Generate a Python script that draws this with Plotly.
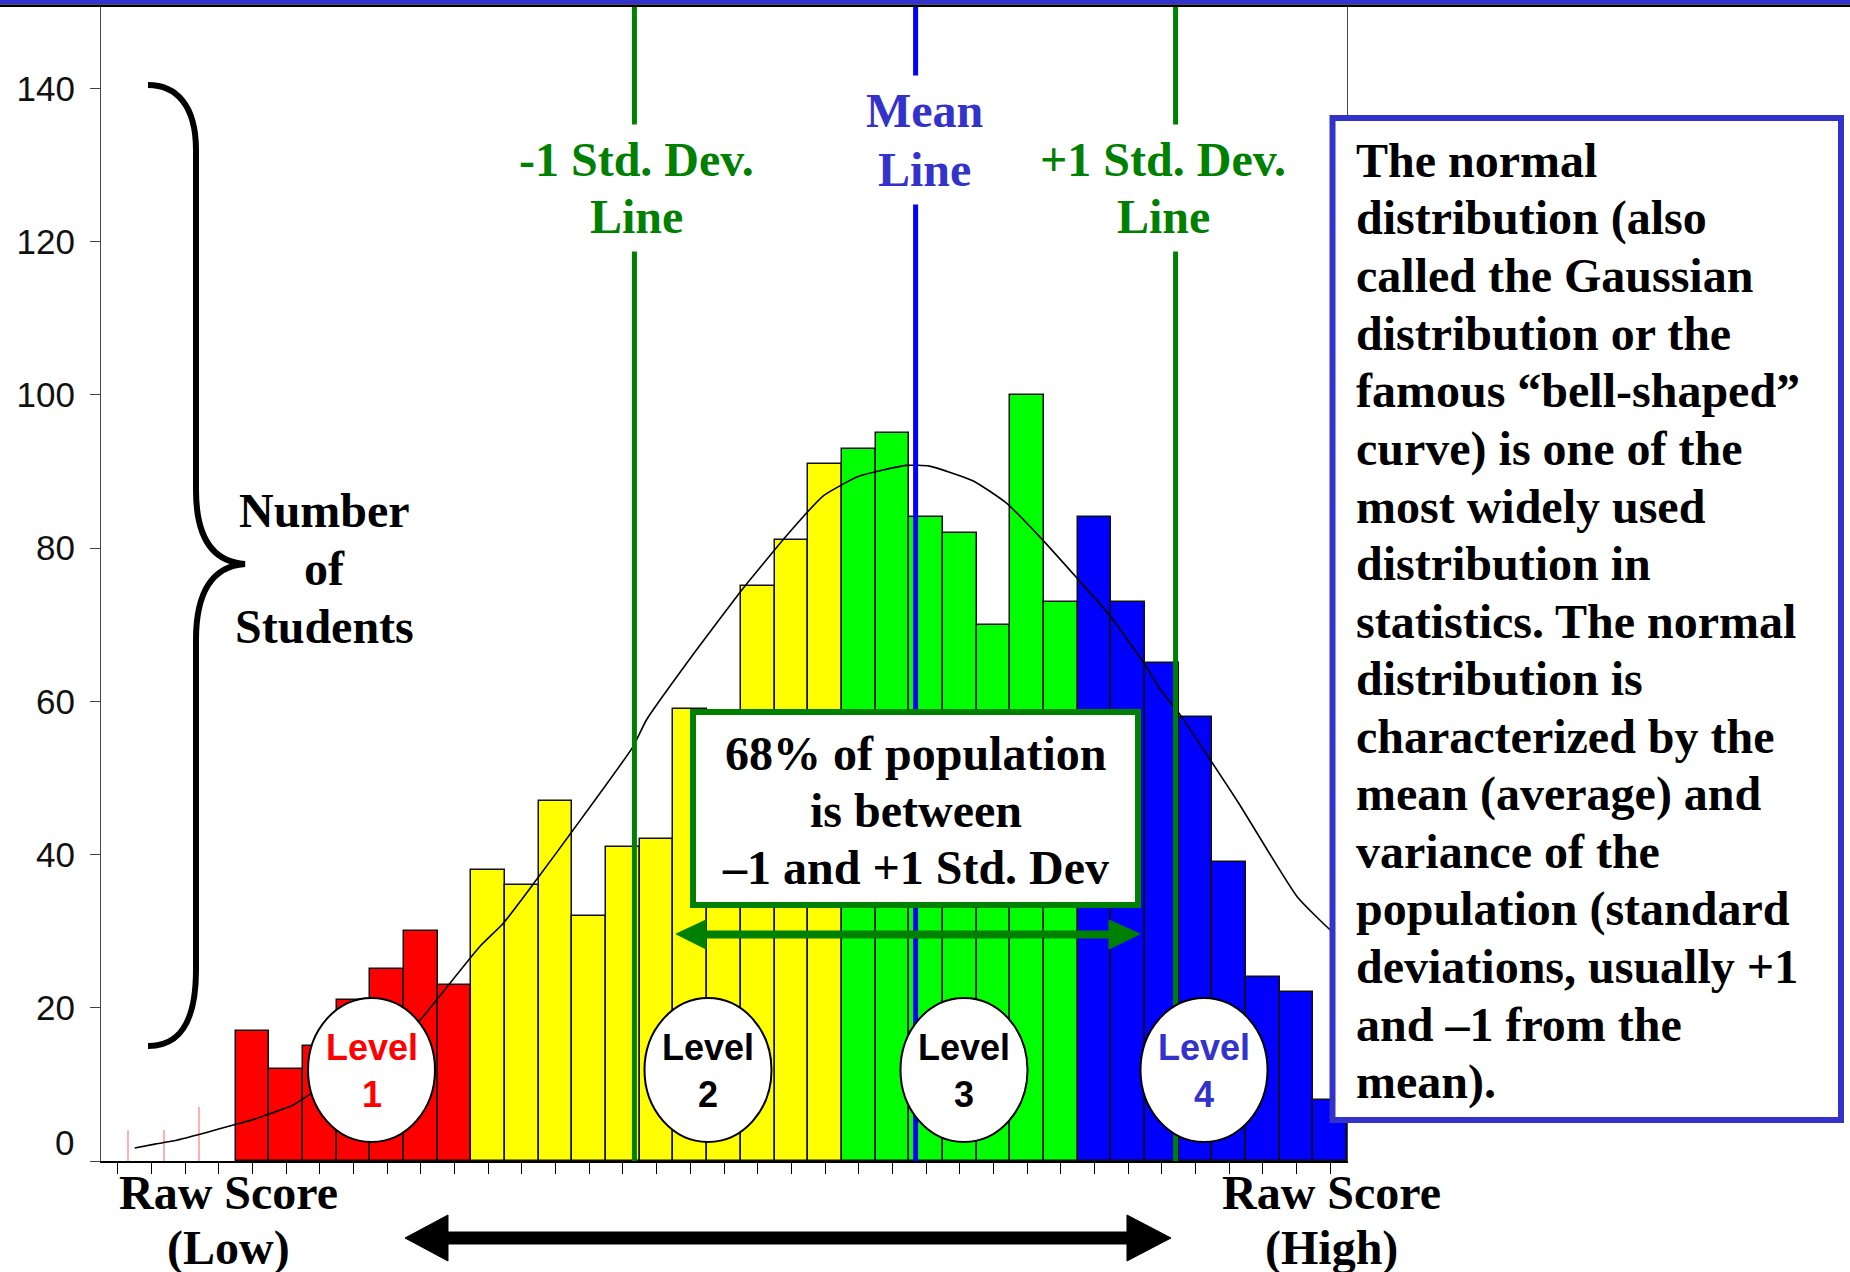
import plotly.graph_objects as go

# ---------------- data ----------------
level1_counts = [17, 12, 15, 21, 25, 30, 23]
level2_counts = [38, 36, 47, 32, 41, 42, 59, 58, 75, 81, 91]
level3_counts = [93, 95, 84, 82, 70, 100, 73]
level4_counts = [84, 73, 65, 58, 39, 24, 22, 8]
stray_bins = [-3.69, -2.62, -1.58]
stray_counts = [4, 4, 7]

curve_x = [-3.5, -2.9, -2.37, -1.56, -1.06, -0.57, 0.02, 0.57, 1.21, 1.70, 3.3, 4.97,
           5.46, 6.75, 7.44, 8.43, 9.52, 11.30, 11.70, 13.18, 14.47, 15.06, 15.95,
           16.94, 18.02, 19.41, 20.10, 21.39, 22.38, 23.37, 24.50, 25.44, 26.53,
           26.93, 27.52, 29.27, 31.02, 32.07, 32.5]
curve_y = [1.7, 2.2, 2.6, 3.5, 4.1, 4.7, 5.4, 6.25, 7.3, 8.7, 13.2, 18.4,
           21.0, 28.0, 31.0, 36.7, 43.2, 54.1, 57.6, 66.7, 74.2, 77.4, 82.1,
           86.8, 89.4, 90.8, 90.7, 88.8, 85.9, 81.5, 76.0, 71.3, 64.6,
           61.7, 58.4, 46.8, 34.5, 29.9, 28.5]

sd_minus_pos = 11.34
mean_pos = 19.69
sd_plus_pos = 27.41

y_tick_vals = [0, 20, 40, 60, 80, 100, 120, 140]
level_labels = ["Level<br>1", "Level<br>2", "Level<br>3", "Level<br>4"]
info_lines = [
    "The normal", "distribution (also", "called the Gaussian",
    "distribution or the", "famous \u201cbell-shaped\u201d", "curve) is one of the",
    "most widely used", "distribution in", "statistics. The normal",
    "distribution is", "characterized by the", "mean (average) and",
    "variance of the", "population (standard", "deviations, usually +1",
    "and \u20131 from the", "mean).",
]
box68_lines = ["68% of population", "is between", "\u20131 and +1 Std. Dev"]

# ---------------- geometry helpers ----------------
W, H = 1850, 1272
PL, PR, PT, PB = 101, 1347, 7, 1161
Y_TOP = (PB - PT) / 7.661


def xp(px):
    return (px - PL) / (PR - PL)


def yp(py):
    return (PB - py) / (PB - PT)


def pt(p):
    return f"{xp(p[0]):.5f},{yp(p[1]):.5f}"


def poly(points):
    s = "M" + pt(points[0])
    for p in points[1:]:
        s += " L" + pt(p)
    return s + " Z"


SERIF = "Liberation Serif"
SANS = "Liberation Sans"

fig = go.Figure()

groups = [
    (level1_counts, "#ff0000"),
    (level2_counts, "#ffff00"),
    (level3_counts, "#00ff00"),
    (level4_counts, "#0000ff"),
]
start = 0
for counts, color in groups:
    xs = list(range(start, start + len(counts)))
    start += len(counts)
    fig.add_trace(go.Bar(x=xs, y=counts, width=1.0,
                         marker=dict(color=color, line=dict(color="#111111", width=1.5)),
                         showlegend=False, hoverinfo="skip"))

fig.add_trace(go.Bar(x=stray_bins, y=stray_counts, width=0.03,
                     marker=dict(color="#ffb0b0", line=dict(width=0)),
                     showlegend=False, hoverinfo="skip"))

fig.add_trace(go.Scatter(x=curve_x, y=curve_y, mode="lines",
                         line=dict(color="black", width=1.6, shape="spline", smoothing=0.5),
                         showlegend=False, hoverinfo="skip"))

shapes = []
# vertical reference lines
for pos, col in [(sd_minus_pos, "#008000"), (mean_pos, "#0000ff"), (sd_plus_pos, "#008000")]:
    shapes.append(dict(type="line", xref="x", yref="y", x0=pos, x1=pos, y0=0, y1=Y_TOP,
                       line=dict(color=col, width=5), layer="above"))

# level circles
for cx in [371.5, 708, 964, 1204]:
    shapes.append(dict(type="circle", xref="paper", yref="paper",
                       x0=xp(cx - 63.5), x1=xp(cx + 63.5), y0=yp(1142), y1=yp(998),
                       fillcolor="white", line=dict(color="black", width=2), layer="above"))

# green double arrow
ga = [(676, 934), (706, 920), (706, 931), (1109, 931), (1109, 920), (1140, 934),
      (1109, 949), (1109, 938), (706, 938), (706, 949)]
shapes.append(dict(type="path", xref="paper", yref="paper", path=poly(ga),
                   fillcolor="#008000", line=dict(color="#008000", width=1), layer="above"))

# 68% box
shapes.append(dict(type="rect", xref="paper", yref="paper",
                   x0=xp(693), x1=xp(1138), y0=yp(905), y1=yp(712),
                   fillcolor="white", line=dict(color="#008000", width=6), layer="above"))

# right info box
shapes.append(dict(type="rect", xref="paper", yref="paper",
                   x0=xp(1332.5), x1=xp(1841), y0=yp(1120), y1=yp(118),
                   fillcolor="white", line=dict(color="#3333cc", width=6), layer="above"))

# brace
brace = ("M" + pt((148, 85)) +
         " C" + pt((176, 85)) + " " + pt((196, 105)) + " " + pt((196, 150)) +
         " L" + pt((196, 490)) +
         " C" + pt((196, 540)) + " " + pt((214, 562)) + " " + pt((245, 564)) +
         " C" + pt((214, 566)) + " " + pt((196, 590)) + " " + pt((196, 640)) +
         " L" + pt((196, 970)) +
         " C" + pt((196, 1025)) + " " + pt((178, 1046)) + " " + pt((148, 1046)))
shapes.append(dict(type="path", xref="paper", yref="paper", path=brace,
                   line=dict(color="black", width=6), layer="above"))

# black double arrow at the bottom
ba = [(405, 1238), (448, 1215), (448, 1232), (1127, 1232), (1127, 1215), (1171, 1238),
      (1127, 1261), (1127, 1244), (448, 1244), (448, 1261)]
shapes.append(dict(type="path", xref="paper", yref="paper", path=poly(ba),
                   fillcolor="black", line=dict(color="black", width=1), layer="above"))

# header band
shapes.append(dict(type="rect", xref="paper", yref="paper", x0=xp(0), x1=xp(W),
                   y0=yp(4.5), y1=yp(-1), fillcolor="#3333cc", line=dict(width=0), layer="above"))
shapes.append(dict(type="rect", xref="paper", yref="paper", x0=xp(0), x1=xp(W),
                   y0=yp(7), y1=yp(4.5), fillcolor="black", line=dict(width=0), layer="above"))

annotations = []


def txt(text, x, y, size=48, color="black", xanchor="center", family=SERIF, bg=None, pad=1):
    d = dict(text=text, x=xp(x), y=yp(y), xref="paper", yref="paper", showarrow=False,
             xanchor=xanchor, yanchor="middle",
             font=dict(family=family, size=size, color=color, weight="bold"),
             borderpad=pad)
    if bg:
        d["bgcolor"] = bg
    annotations.append(d)


# line labels
txt("-1 Std. Dev.", 636, 159, color="#008000", bg="white", pad=8)
txt("Line", 636, 216, color="#008000", bg="white", pad=8)
txt("Mean", 924, 110, color="#3333cc", bg="white", pad=8)
txt("Line", 924, 169, color="#3333cc", bg="white", pad=8)
txt("+1 Std. Dev.", 1163, 159, color="#008000", bg="white", pad=8)
txt("Line", 1163, 216, color="#008000", bg="white", pad=8)

# number of students
for i, s in enumerate(["Number", "of", "Students"]):
    txt(s, 324, 510 + 58 * i)

# 68% box text
for i, s in enumerate(box68_lines):
    txt(s, 915.5, 753 + 57.5 * i)

# info box text
for i, s in enumerate(info_lines):
    txt(s, 1354, 160.5 + 57.6 * i, xanchor="left")

# level labels
level_colors = ["#ff0000", "black", "black", "#3333cc"]
for cx, lab, col in zip([371.5, 708, 964, 1204], level_labels, level_colors):
    txt(lab, cx, 1070.5, size=36, color=col, family=SANS)

# raw score labels
txt("Raw Score", 228, 1192)
txt("(Low)", 228, 1248)
txt("Raw Score", 1331, 1192)
txt("(High)", 1331, 1248)

# zero label (shifted up as in the original)
annotations.append(dict(text="0", x=xp(76), y=yp(1142), xref="paper", yref="paper",
                        showarrow=False, xanchor="right", yanchor="middle",
                        font=dict(family=SANS, size=35, color="#111111")))

fig.update_layout(
    width=W, height=H,
    margin=dict(l=PL, r=W - PR, t=PT, b=H - PB, pad=0),
    paper_bgcolor="white", plot_bgcolor="white",
    barmode="overlay", bargap=0,
    shapes=shapes, annotations=annotations,
    showlegend=False,
)
fig.update_xaxes(range=[-4.5, 32.5], showgrid=False, zeroline=False,
                 showline=True, linecolor="black", linewidth=2,
                 ticks="outside", ticklen=11, tickcolor="black", tickwidth=1,
                 tickvals=list(range(-4, 33)), showticklabels=False)
fig.update_yaxes(range=[0, Y_TOP], showgrid=False, zeroline=False,
                 showline=True, linecolor="#444444", linewidth=1, mirror=True,
                 ticks="outside", ticklen=10, tickcolor="#444444",
                 tickvals=y_tick_vals,
                 ticktext=[""] + [str(v) for v in y_tick_vals[1:]],
                 tickfont=dict(family=SANS, size=35, color="#111111"),
                 ticklabelstandoff=8)

fig.write_html("out.html", config={"displayModeBar": False},
               post_script="document.body.style.margin='0';")
